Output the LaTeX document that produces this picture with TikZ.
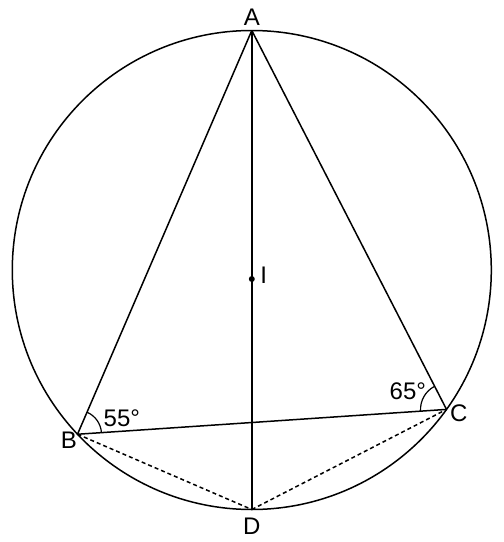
\documentclass[tikz,border=0pt]{standalone}
\usepackage{fontspec}
\setmainfont{Liberation Sans}
\usetikzlibrary{positioning, angles}

\begin{document}
\begin{tikzpicture}
    [
        x=1pt, y=1pt, on grid, node distance=10pt,
        label_node/.style={inner sep=0pt, anchor=center, font=\fontsize{24}{28}\selectfont},
        dot_node/.style={circle, fill=black, inner sep=0pt, minimum size=6pt},
    ]
        \useasboundingbox (-251.8,-272) rectangle (252.2,270) ;
        \coordinate (O) at (0,0) ;
        \coordinate (A) at (90:239.5) ;
        \coordinate (B) at (223.3:239.5) ;
        \coordinate (C) at (324.4:239.5) ;
        \coordinate (D) at (270:239.5) ;
        \node[dot_node] (I) at (0,-9) {} ;
        \node (labA) [above = 13pt of A, label_node] {A} ;
        \node (labB) [below left = 5.7pt and 8.7pt of B, label_node] {B} ;
        \node (labC) [below right = 3.7pt and 12.3pt of C, label_node] {C} ;
        \node (labD) [below = 17pt of D, label_node] {D} ;
        \node (labI) [above right = 4pt and 12pt of I, label_node] {I} ;
        \node (angB) [above right = 16.3pt and 44.3pt of B, label_node] {55°} ;
        \node (angC) [above left = 18.3pt and 38.7pt of C, label_node] {65°} ;
        \draw[line width=1.5pt, color=black] (O) circle (239.5) ;
        \draw[line width=1.5pt, color=black] (A) -- (B) ;
        \draw[line width=1.5pt, color=black] (B) -- (C) ;
        \draw[line width=1.5pt, color=black] (C) -- (A) ;
        \draw[line width=1.5pt, color=black] (A) -- (D) ;
        \draw[line width=1.5pt, color=black, dash pattern=on 4pt off 3pt] (B) -- (D) ;
        \draw[line width=1.5pt, color=black, dash pattern=on 4pt off 3pt] (D) -- (C) ;
        \pic[draw, line width=1.2pt, angle radius=24pt] {angle = C--B--A} ;
        \pic[draw, line width=1.2pt, angle radius=26pt] {angle = A--C--B} ;
    \end{tikzpicture}
\end{document}
